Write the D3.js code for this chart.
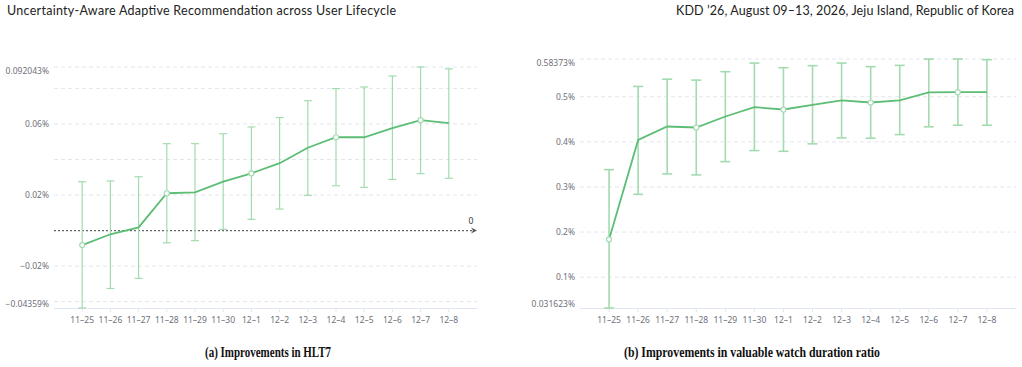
<!DOCTYPE html>
<html>
<head>
<meta charset="utf-8">
<script src="https://cdn.jsdelivr.net/npm/d3@7"></script>
<style>
  body { margin: 0; background: #fff; }
  svg { display: block; }
  .tick-label { font-family: "Noto Sans", sans-serif; font-size: 8.5px; fill: #6e7079; }
</style>
</head>
<body>
<div id="chart"></div>
<script>
// categories (dates)
const dates = ["11–25", "11–26", "11–27", "11–28", "11–29", "11–30", "12–1",
    "12–2", "12–3", "12–4", "12–5", "12–6", "12–7", "12–8"];

// (a) HLT7 improvement, %
const hltMean  = [-0.0082, -0.0021, 0.0018, 0.0210, 0.0215, 0.0275, 0.0322, 0.0379, 0.0466, 0.0525, 0.0525, 0.0577, 0.0621, 0.0604];
const hltUpper = [0.0275, 0.0279, 0.0303, 0.0489, 0.0489, 0.0545, 0.0583, 0.0636, 0.0731, 0.0799, 0.0808, 0.0870, 0.092043, 0.0910];
const hltLower = [-0.04359, -0.0326, -0.0269, -0.0069, -0.0057, 0.0007, 0.0063, 0.0121, 0.0198, 0.0252, 0.0243, 0.0288, 0.0320, 0.0294];
const hltTicks = [0.06, 0.02, -0.02];
const hltGrid = [0.08, 0.06, 0.04, 0.02, -0.02, -0.04];

// (b) valuable watch duration ratio improvement, %
const vwdMean  = [0.1836, 0.4044, 0.4340, 0.4318, 0.4562, 0.4769, 0.4718, 0.4822, 0.4918, 0.4873, 0.4918, 0.5096, 0.5102, 0.5102];
const vwdUpper = [0.3384, 0.5229, 0.5390, 0.5369, 0.5556, 0.5747, 0.5644, 0.5689, 0.5747, 0.5667, 0.5696, 0.5835, 0.58373, 0.5822];
const vwdLower = [0.031623, 0.2836, 0.3289, 0.3267, 0.3562, 0.3807, 0.3791, 0.3956, 0.4089, 0.4080, 0.4162, 0.4333, 0.4369, 0.4369];
const vwdTicks = [0.5, 0.4, 0.3, 0.2, 0.1];
const vwdGrid = [0.5, 0.4, 0.3, 0.2, 0.1];

const lineColor = "#5cbd75";
const barColor = "#a3dbb0";

const svg = d3.select("#chart").append("svg")
    .attr("width", 1022)
    .attr("height", 367);

svg.append("rect").attr("width", 1022).attr("height", 367).attr("fill", "#fff");

// page header
svg.append("text")
    .attr("x", 7).attr("y", 15)
    .attr("font-family", "Lato, sans-serif")
    .attr("font-size", 12.5)
    .attr("fill", "#222")
    .attr("textLength", 389)
    .text("Uncertainty-Aware Adaptive Recommendation across User Lifecycle");

svg.append("text")
    .attr("x", 676).attr("y", 15)
    .attr("font-family", "Lato, sans-serif")
    .attr("font-size", 12.5)
    .attr("fill", "#222")
    .attr("textLength", 338)
    .text("KDD ’26, August 09–13, 2026, Jeju Island, Republic of Korea");

function fmt(v) {
    return (+v.toFixed(6)) + "%";
}

function drawPanel(opt) {
    const g = svg.append("g");

    const x = d3.scalePoint()
        .domain(dates)
        .range([opt.left, opt.right])
        .padding(1);

    const yMin = d3.min(opt.lower), yMax = d3.max(opt.upper);
    const y = d3.scaleLinear()
        .domain([yMin, yMax])
        .range([opt.bottom, opt.top]);

    // gridlines
    g.selectAll(".grid")
        .data([yMax].concat(opt.grid))
        .enter().append("line")
        .attr("x1", opt.left).attr("x2", opt.right)
        .attr("y1", d => y(d)).attr("y2", d => y(d))
        .attr("stroke", "#e3e6ec")
        .attr("stroke-dasharray", "4,3");

    // y labels (ticks + min/max, the extremes pulled inward a little)
    const labels = [{v: yMax, dy: 4}]
        .concat(opt.ticks.map(v => ({v, dy: 0})), [{v: yMin, dy: -4}]);
    g.selectAll(".ylab")
        .data(labels)
        .enter().append("text")
        .attr("class", "tick-label")
        .attr("x", opt.left - 5)
        .attr("y", d => y(d.v) + d.dy + 3)
        .attr("text-anchor", "end")
        .text(d => fmt(d.v).replace("-", "−"));

    // x axis line
    g.append("line")
        .attr("x1", opt.left).attr("x2", opt.right)
        .attr("y1", opt.bottom + 0.5).attr("y2", opt.bottom + 0.5)
        .attr("stroke", "#e0e6f1");

    g.selectAll(".xtick")
        .data(dates)
        .enter().append("line")
        .attr("x1", d => x(d)).attr("x2", d => x(d))
        .attr("y1", opt.bottom).attr("y2", opt.bottom + 4)
        .attr("stroke", "#e0e6f1");

    g.selectAll(".xlab")
        .data(dates)
        .enter().append("text")
        .attr("class", "tick-label")
        .attr("x", d => x(d))
        .attr("y", opt.bottom + 15)
        .attr("text-anchor", "middle")
        .text(d => d);

    // zero reference line
    if (opt.zero) {
        g.append("line")
            .attr("x1", opt.left).attr("x2", opt.right - 4)
            .attr("y1", y(0)).attr("y2", y(0))
            .attr("stroke", "#666")
            .attr("stroke-width", 1.2)
            .attr("stroke-dasharray", "2,2");
        g.append("path")
            .attr("d", `M${opt.right - 6},${y(0) - 3}L${opt.right},${y(0)}L${opt.right - 6},${y(0) + 3}L${opt.right - 4},${y(0)}Z`)
            .attr("fill", "#555");
        g.append("text")
            .attr("class", "tick-label")
            .attr("x", opt.right - 6)
            .attr("y", y(0) - 7)
            .attr("text-anchor", "middle")
            .style("fill", "#333")
            .text("0");
    }

    // error bars
    const bars = g.selectAll(".err")
        .data(dates)
        .enter().append("g")
        .attr("stroke", barColor)
        .attr("stroke-width", opt.barWidth);

    bars.append("line")
        .attr("x1", d => x(d)).attr("x2", d => x(d))
        .attr("y1", (d, i) => y(opt.lower[i]))
        .attr("y2", (d, i) => y(opt.upper[i]));
    bars.append("line")
        .attr("x1", d => x(d) - opt.cap).attr("x2", d => x(d) + opt.cap)
        .attr("y1", (d, i) => y(opt.upper[i]))
        .attr("y2", (d, i) => y(opt.upper[i]));
    bars.append("line")
        .attr("x1", d => x(d) - opt.cap).attr("x2", d => x(d) + opt.cap)
        .attr("y1", (d, i) => y(opt.lower[i]))
        .attr("y2", (d, i) => y(opt.lower[i]));

    // mean line
    const line = d3.line()
        .x((d, i) => x(dates[i]))
        .y(d => y(d));

    g.append("path")
        .datum(opt.mean)
        .attr("d", line)
        .attr("fill", "none")
        .attr("stroke", lineColor)
        .attr("stroke-width", 1.8);

    // hollow symbols on every third point
    g.selectAll(".sym")
        .data(opt.mean.map((v, i) => ({v, i})).filter(d => d.i % 3 === 0))
        .enter().append("circle")
        .attr("cx", d => x(dates[d.i]))
        .attr("cy", d => y(d.v))
        .attr("r", 2.5)
        .attr("fill", "#fff")
        .attr("stroke", barColor)
        .attr("stroke-width", 1.2);

    // caption
    svg.append("text")
        .attr("x", opt.captionX)
        .attr("y", 357)
        .attr("font-family", "Liberation Serif, serif")
        .attr("font-weight", "bold")
        .attr("font-size", 14)
        .attr("fill", "#111")
        .attr("textLength", opt.captionW)
        .attr("lengthAdjust", "spacingAndGlyphs")
        .text(opt.caption);
}

drawPanel({
    left: 54, right: 477, top: 67, bottom: 308,
    mean: hltMean, upper: hltUpper, lower: hltLower,
    ticks: hltTicks, grid: hltGrid,
    zero: true, barWidth: 1.2, cap: 4,
    caption: "(a) Improvements in HLT7", captionX: 205, captionW: 126
});

drawPanel({
    left: 580, right: 1016, top: 59, bottom: 308,
    mean: vwdMean, upper: vwdUpper, lower: vwdLower,
    ticks: vwdTicks, grid: vwdGrid,
    zero: false, barWidth: 1.6, cap: 5,
    caption: "(b) Improvements in valuable watch duration ratio", captionX: 624, captionW: 256
});
</script>
</body>
</html>
